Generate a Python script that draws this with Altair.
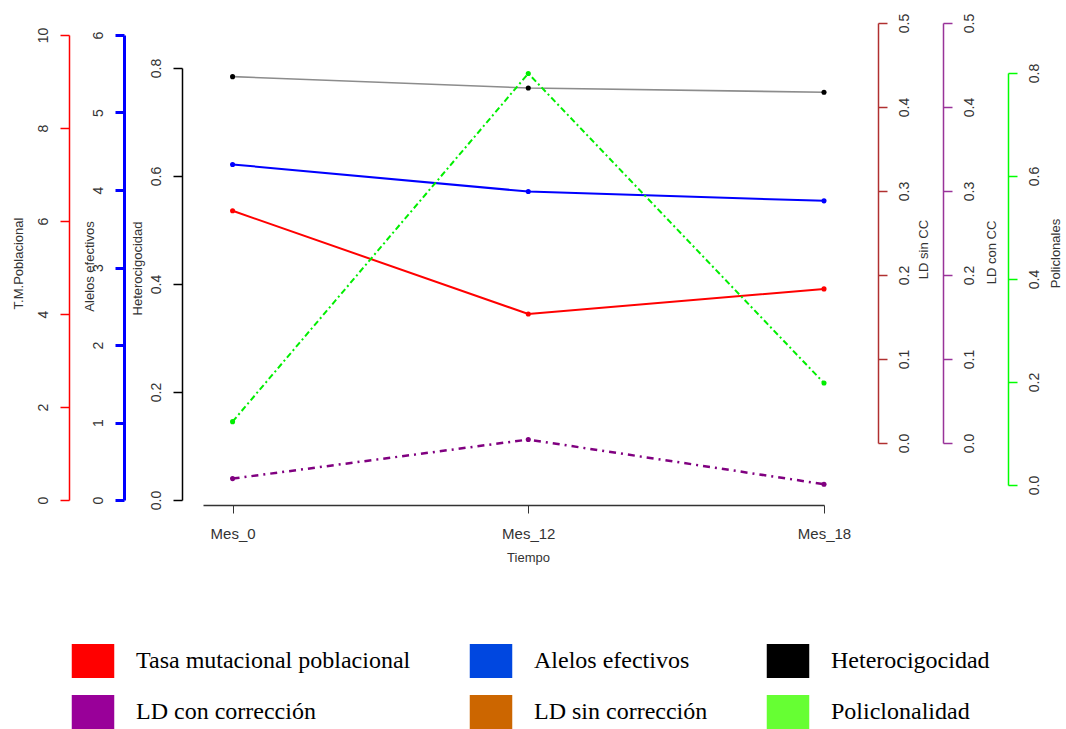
import altair as alt
import pandas as pd

# ---------------- data ----------------
meses = ["Mes_0", "Mes_12", "Mes_18"]
mes_idx = [0, 1, 2]
tasa_mutacional = [6.22, 4.00, 4.54]      # T.M.Poblacional (0-10)
alelos_efectivos = [4.33, 3.98, 3.86]     # Alelos efectivos (0-6)
heterocigocidad = [0.784, 0.763, 0.755]   # Heterocigocidad (0-0.8)
policlonalidad = [0.123, 0.799, 0.198]    # Policlonales (0-0.8)
ld_con_correccion = [0.023, 0.065, 0.017] # LD con CC (own hidden scale)

legend_labels = ["Tasa mutacional poblacional", "Alelos efectivos", "Heterocigocidad",
                 "LD con corrección", "LD sin corrección", "Policlonalidad"]
legend_colors = ["#ff0000", "#0047e0", "#000000", "#990099", "#cc6600", "#66ff33"]

df = pd.DataFrame({
    "mes": meses, "idx": mes_idx, "tasa": tasa_mutacional, "alelos": alelos_efectivos,
    "hetero": heterocigocidad, "policlon": policlonalidad, "ldcon": ld_con_correccion,
})

W, H = 696, 483
label_expr = "[" + ",".join(f"'{m}'" for m in meses) + "][datum.value]"

x_enc = alt.X(
    "idx:Q",
    scale=alt.Scale(domain=[-0.1, 2], range=[21, 642], nice=False, zero=False),
    axis=alt.Axis(values=mes_idx, labelExpr=label_expr, title="Tiempo", grid=False,
                  tickSize=8, labelPadding=13, labelFlush=False, labelFontSize=15,
                  domainColor="#333", tickColor="#333", domainWidth=1.5,
                  titleX=346, titleY=52, titleBaseline="middle", titleAlign="center"),
)


def yaxis(orient, offset, color, width, values, fmt, title, tx, ty):
    return alt.Axis(
        orient=orient, offset=offset, values=values, format=fmt, title=title,
        domainColor=color, tickColor=color, domainWidth=width, tickWidth=width, tickSize=9,
        labelAngle=270, labelAlign="center",
        labelBaseline="bottom" if orient == "left" else "top",
        labelPadding=10, labelFontSize=14,
        titleAngle=270, titleX=tx, titleY=ty, titleAlign="center", titleBaseline="middle",
        grid=False, labelFlush=False, labelOverlap=False,
    )


def yscale(dom, rng):
    return alt.Scale(domain=dom, range=rng, nice=False, zero=False)


def line_layer(field, line_color, dom, rng, axis, point_color=None, dash=None, width=2.0):
    kw = dict(color=line_color, strokeWidth=width,
              point=alt.OverlayMarkDef(filled=True, size=26, color=point_color or line_color, opacity=1))
    if dash is not None:
        kw["strokeDash"] = dash
    return alt.Chart(df).mark_line(**kw).encode(
        x=x_enc, y=alt.Y(f"{field}:Q", scale=yscale(dom, rng), axis=axis)
    )


ticks10 = [0, 2, 4, 6, 8, 10]
ticks6 = [0, 1, 2, 3, 4, 5, 6]
ticks08 = [0, 0.2, 0.4, 0.6, 0.8]
ticks05 = [0, 0.1, 0.2, 0.3, 0.4, 0.5]

red = line_layer("tasa", "#ff0000", [0, 10], [478, 13],
                 yaxis("left", 113, "#ff0000", 1.5, ticks10, "d", "T.M.Poblacional", -51, 241))
blue = line_layer("alelos", "#0000ff", [0, 6], [478, 13],
                  yaxis("left", 58, "#0000ff", 3, ticks6, "d", "Alelos efectivos", -35, 244))
black = line_layer("hetero", "#8c8c8c", [0, 0.8], [478, 46],
                   yaxis("left", 0, "#000000", 1.5, ticks08, ".1f", "Heterocigocidad", -45, 246),
                   point_color="#000000", width=1.6)
green = line_layer("policlon", "#00ee00", [0, 0.8], [463, 51],
                   yaxis("right", 130, "#00ff00", 1.5, ticks08, ".1f", "Policlonales", 47, 231),
                   dash=[6, 3, 2, 3], width=2)
purple = line_layer("ldcon", "#800080", [0, 0.5], [478, 13], None,
                    dash=[7, 5, 2, 5], width=2.5)

brown_axis = alt.Chart(df).mark_point(opacity=0).encode(
    y=alt.YDatum(0, type="quantitative", scale=yscale([0, 0.5], [421, 1]),
                 axis=yaxis("right", 0, "#b03030", 1.5, ticks05, ".1f", "LD sin CC", 45, 227))
)
purple_axis = alt.Chart(df).mark_point(opacity=0).encode(
    y=alt.YDatum(0, type="quantitative", scale=yscale([0, 0.5], [421, 1]),
                 axis=yaxis("right", 65, "#993399", 1.5, ticks05, ".1f", "LD con CC", 48, 230))
)

legend_layer = alt.Chart(pd.DataFrame({"serie": legend_labels})).mark_point(
    filled=True, opacity=0
).encode(
    color=alt.Color(
        "serie:N",
        scale=alt.Scale(domain=legend_labels, range=legend_colors),
        legend=alt.Legend(
            orient="none", legendX=-106, legendY=622, direction="horizontal", columns=3,
            title=None, padding=0,
            symbolType="M-1.25,-1H1.25V1H-1.25Z", symbolSize=1156, symbolOpacity=1,
            symbolStrokeWidth=0, labelFont="Liberation Serif", labelFontSize=24,
            labelColor="#000000", labelOffset=26, columnPadding=58, rowPadding=17,
            labelLimit=500, labelBaseline="middle",
        ),
    )
)

chart = alt.layer(
    red, blue, black, green, purple, brown_axis, purple_axis, legend_layer
).resolve_scale(y="independent").properties(
    width=W, height=H,
    autosize=alt.AutoSizeParams(type="none"),
    padding={"left": 182, "top": 22, "right": 1066 - 182 - W, "bottom": 729 - 22 - H},
).configure_view(stroke=None).configure_axis(
    labelFont="Liberation Sans", titleFont="Liberation Sans",
    titleFontSize=13, labelColor="#333333", titleColor="#333333", titleFontWeight="normal",
)

chart.save("out.html", embed_options={"renderer": "svg", "actions": False})
